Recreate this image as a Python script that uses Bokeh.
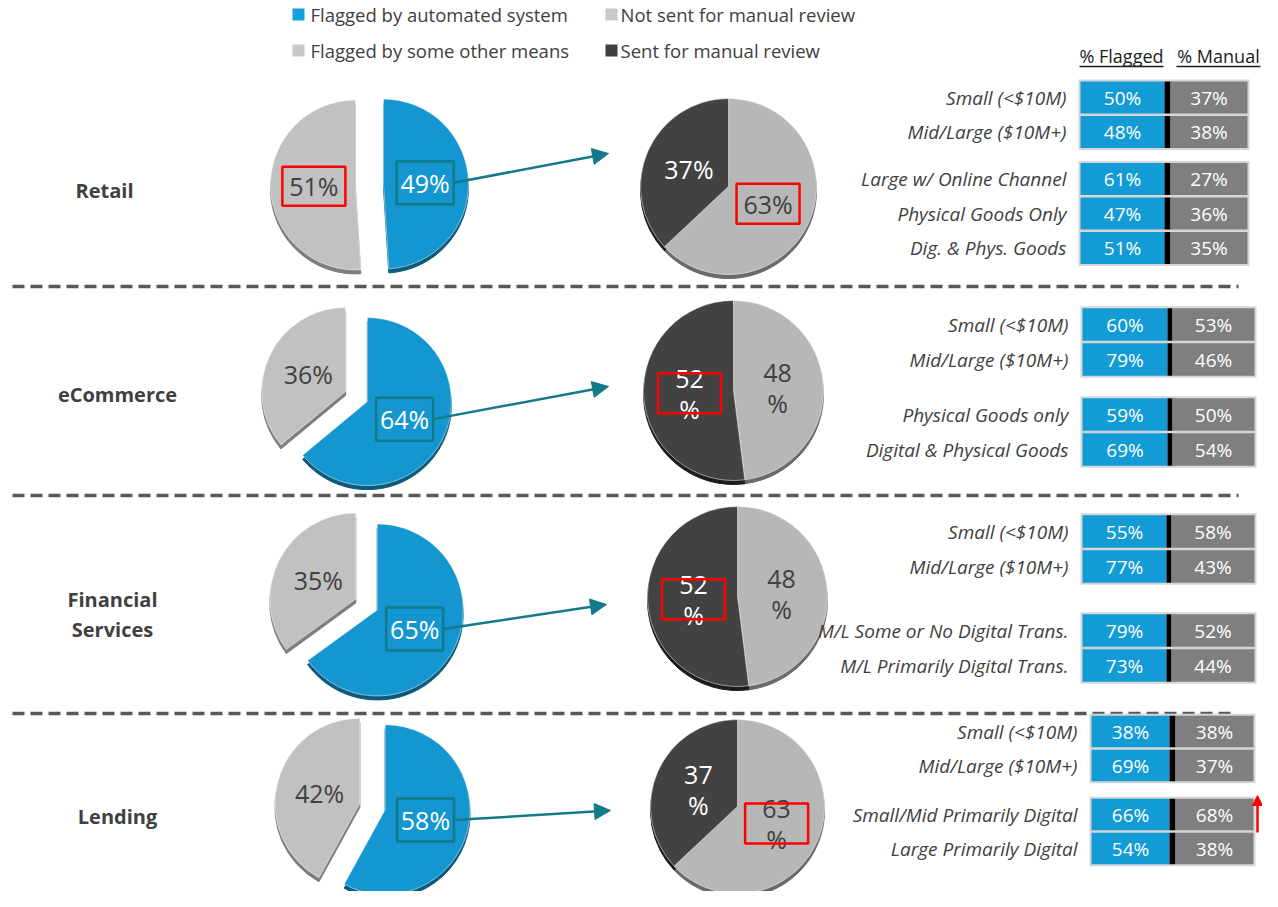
import math
from bokeh.plotting import figure
from bokeh.models import Range1d, Arrow, NormalHead, ColumnDataSource
from bokeh.core.properties import value
from bokeh.embed import file_html
from bokeh.resources import INLINE

# ---------------- data ----------------
sectors = ["Retail", "eCommerce", "Financial\nServices", "Lending"]
pct_flagged_auto = [49, 64, 65, 58]
pct_flagged_other = [51, 36, 35, 42]
pct_sent_manual = [37, 52, 52, 37]
pct_not_sent_manual = [63, 48, 48, 63]

retail_segments = ["Small (<$10M)", "Mid/Large ($10M+)", "Large w/ Online Channel",
                   "Physical Goods Only", "Dig. & Phys. Goods"]
retail_flagged = [50, 48, 61, 47, 51]
retail_manual = [37, 38, 27, 36, 35]
retail_groups = [0, 0, 1, 1, 1]

ecom_segments = ["Small (<$10M)", "Mid/Large ($10M+)", "Physical Goods only",
                 "Digital & Physical Goods"]
ecom_flagged = [60, 79, 59, 69]
ecom_manual = [53, 46, 50, 54]
ecom_groups = [0, 0, 1, 1]

fin_segments = ["Small (<$10M)", "Mid/Large ($10M+)", "M/L Some or No Digital Trans.",
                "M/L Primarily Digital Trans."]
fin_flagged = [55, 77, 79, 73]
fin_manual = [58, 43, 52, 44]
fin_groups = [0, 0, 1, 1]

lend_segments = ["Small (<$10M)", "Mid/Large ($10M+)", "Small/Mid Primarily Digital",
                 "Large Primarily Digital"]
lend_flagged = [38, 69, 66, 54]
lend_manual = [38, 37, 68, 38]
lend_groups = [0, 0, 1, 1]

legend_labels = ["Flagged by automated system", "Flagged by some other means",
                 "Not sent for manual review", "Sent for manual review"]
table_headers = ["% Flagged", "% Manual"]

tables = [
    (retail_segments, retail_flagged, retail_manual, retail_groups),
    (ecom_segments, ecom_flagged, ecom_manual, ecom_groups),
    (fin_segments, fin_flagged, fin_manual, fin_groups),
    (lend_segments, lend_flagged, lend_manual, lend_groups),
]

# ---------------- layout / style ----------------
W, H = 1262, 891          # figure size in the window (8px page margin)
Y_TOP = 2                 # design y shown at the figure's top edge
FONT = value("Open Sans")
BLUE, BLUE_SH = "#1497d0", "#0b5a7c"
LGRAY, LGRAY_SH = "#c1c1c1", "#7e7e7e"
RLIGHT, RLIGHT_SH = "#b7b7b7", "#6a6a6a"
DARK, DARK_SH = "#424242", "#1c1c1c"
TEAL = "#127a89"
TXT = "#404040"
BAR_BLUE, BAR_GRAY, BAR_EDGE = "#139bd6", "#7f7f7f", "#d6d6d6"

sector_layout = [
    dict(name_xy=(104, 192), lc=(369, 186), lr=85, ex=14, rc=(728, 188), rr=88, tip=(608, 155),
         two_line=False, tab_y0=99, pitch=34.5, gap=12.5, bx=(1080, 1164, 1170, 1247),
         red_left=True, red_right="light"),
    dict(name_xy=(117, 396), lc=(356, 398), lr=84, ex=12, rc=(733, 392), rr=90, tip=(608, 388),
         two_line=True, tab_y0=326, pitch=35, gap=20, bx=(1082, 1167, 1172, 1254),
         red_left=False, red_right="dark"),
    dict(name_xy=(112, 616), lc=(366, 606), lr=86, ex=12, rc=(737, 598), rr=90, tip=(606, 606),
         two_line=True, tab_y0=533, pitch=35, gap=29, bx=(1082, 1166, 1171, 1254),
         red_left=False, red_right="dark"),
    dict(name_xy=(117, 818), lc=(372, 808), lr=85, ex=13, rc=(737, 808), rr=87, tip=(610, 812),
         two_line=True, tab_y0=733, pitch=34, gap=15, bx=(1091, 1169, 1175, 1253),
         red_left=False, red_right="light"),
]
separators_y = [288, 497, 715]


def Y(v):
    return -v


p = figure(width=W, height=H, x_range=Range1d(0, W), y_range=Range1d(-(Y_TOP + H), -Y_TOP),
           output_backend="svg", toolbar_location=None, x_axis_type=None, y_axis_type=None,
           min_border=0, outline_line_color=None)
p.grid.visible = False
p.background_fill_color = "white"
p.border_fill_color = "white"

# ---- pies ----
wedges = dict(x=[], y=[], r=[], s=[], e=[], c=[])
shadows = dict(x=[], y=[], r=[], s=[], e=[], c=[])
labels = dict(x=[], y=[], t=[], c=[])
labels2 = dict(x=[], y=[], t=[], c=[])
red_boxes = dict(x=[], y=[], w=[], h=[])
teal_boxes = dict(x=[], y=[], w=[], h=[])
arrows = dict(x0=[], y0=[], x1=[], y1=[])


def add_slice(cx, cy, r, a0, a1, color, shcolor, explode, txt, tcolor, target):
    mid = math.pi / 2 - 2 * math.pi * (a0 + a1) / 2
    dx, dy = math.cos(mid), math.sin(mid)
    x = cx + explode * dx
    y = Y(cy) + explode * dy
    s = math.pi / 2 - 2 * math.pi * a1
    e = math.pi / 2 - 2 * math.pi * a0
    shadows["x"].append(x); shadows["y"].append(y - 4); shadows["r"].append(r)
    shadows["s"].append(s); shadows["e"].append(e); shadows["c"].append(shcolor)
    wedges["x"].append(x); wedges["y"].append(y); wedges["r"].append(r)
    wedges["s"].append(s); wedges["e"].append(e); wedges["c"].append(color)
    lx, ly = x + 0.49 * r * dx, y + 0.49 * r * dy
    target["x"].append(lx); target["y"].append(ly); target["t"].append(txt); target["c"].append(tcolor)
    return lx, ly


for i, L in enumerate(sector_layout):
    fa = pct_flagged_auto[i] / 100
    fo = pct_flagged_other[i] / 100
    sm = pct_sent_manual[i] / 100
    ns = pct_not_sent_manual[i] / 100
    cx, cy = L["lc"]
    bx_, by_ = add_slice(cx, cy, L["lr"], 0, fa, BLUE, BLUE_SH, L["ex"],
                         f"{pct_flagged_auto[i]}%", "white", labels)
    gx_, gy_ = add_slice(cx, cy, L["lr"], fa, fa + fo, LGRAY, LGRAY_SH, L["ex"],
                         f"{pct_flagged_other[i]}%", TXT, labels)
    teal_boxes["x"].append(bx_); teal_boxes["y"].append(by_)
    teal_boxes["w"].append(57); teal_boxes["h"].append(43)
    if L["red_left"]:
        red_boxes["x"].append(gx_); red_boxes["y"].append(gy_)
        red_boxes["w"].append(63); red_boxes["h"].append(39)
    arrows["x0"].append(bx_ + 28.5); arrows["y0"].append(by_)
    arrows["x1"].append(L["tip"][0]); arrows["y1"].append(Y(L["tip"][1]))
    rx, ry = L["rc"]
    tgt = labels2 if L["two_line"] else labels
    fmt = (lambda v: f"{v}\n%") if L["two_line"] else (lambda v: f"{v}%")
    nx_, ny_ = add_slice(rx, ry, L["rr"], 0, ns, RLIGHT, RLIGHT_SH, 0,
                         fmt(pct_not_sent_manual[i]), TXT, tgt)
    dx_, dy_ = add_slice(rx, ry, L["rr"], ns, ns + sm, DARK, DARK_SH, 0,
                         fmt(pct_sent_manual[i]), "white", tgt)
    hx, hy = (nx_, ny_) if L["red_right"] == "light" else (dx_, dy_)
    red_boxes["x"].append(hx); red_boxes["y"].append(hy)
    red_boxes["w"].append(63); red_boxes["h"].append(40)

p.wedge(x="x", y="y", radius="r", start_angle="s", end_angle="e", fill_color="c",
        line_color="c", source=ColumnDataSource(shadows))
p.wedge(x="x", y="y", radius="r", start_angle="s", end_angle="e", fill_color="c",
        line_color="white", line_width=0.5, source=ColumnDataSource(wedges))
p.text(x="x", y="y", text="t", text_color="c", text_font=FONT, text_font_size=value("25px"),
       text_align="center", text_baseline="middle", source=ColumnDataSource(labels))
p.text(x="x", y="y", text="t", text_color="c", text_font=FONT, text_font_size=value("25px"),
       text_align="center", text_baseline="middle", text_line_height=0.92,
       source=ColumnDataSource(labels2))
p.rect(x="x", y="y", width="w", height="h", fill_color=None, line_color=TEAL, line_width=2.5,
       source=ColumnDataSource(teal_boxes))
p.rect(x="x", y="y", width="w", height="h", fill_color=None, line_color="#ff0000", line_width=2.5,
       source=ColumnDataSource(red_boxes))
p.add_layout(Arrow(end=NormalHead(size=16, fill_color=TEAL, line_color=TEAL),
                   x_start="x0", y_start="y0", x_end="x1", y_end="y1", line_color=TEAL,
                   line_width=2.5, source=ColumnDataSource(arrows)))

# ---- sector names ----
p.text(x=[L["name_xy"][0] for L in sector_layout], y=[Y(L["name_xy"][1]) for L in sector_layout],
       text=sectors, text_color=TXT, text_font=FONT, text_font_size=value("20px"),
       text_font_style="bold", text_align="center", text_baseline="middle", text_line_height=1.12)

# ---- separators ----
p.segment(x0=[12] * 3, x1=[1238, 1238, 1232], y0=[Y(v) for v in separators_y],
          y1=[Y(v) for v in separators_y], line_color="#595959", line_width=3.5, line_dash="12 6")

# ---- tables ----
bg = dict(l=[], r=[], t=[], b=[])
qd = dict(l=[], r=[], t=[], b=[], c=[])
btxt = dict(x=[], y=[], t=[])
seg = dict(x=[], y=[], t=[])
for (names, flg, man, grp), L in zip(tables, sector_layout):
    b0, b1, b2, b3 = L["bx"]
    h = L["pitch"] - 2.5
    ys = [L["tab_y0"] + j * L["pitch"] + g * L["gap"] for j, g in enumerate(grp)]
    for g in sorted(set(grp)):
        gy = [yy for yy, gg in zip(ys, grp) if gg == g]
        bg["l"].append(b0 - 2); bg["r"].append(b3 + 2)
        bg["t"].append(Y(min(gy) - h / 2 - 2)); bg["b"].append(Y(max(gy) + h / 2 + 2))
    for yy, nm, fv, mv in zip(ys, names, flg, man):
        for (l, r, c) in [(b0, b1, BAR_BLUE), (b1, b2, "#000000"), (b2, b3, BAR_GRAY)]:
            qd["l"].append(l); qd["r"].append(r); qd["t"].append(Y(yy - h / 2))
            qd["b"].append(Y(yy + h / 2)); qd["c"].append(c)
        btxt["x"] += [(b0 + b1) / 2, (b2 + b3) / 2]
        btxt["y"] += [Y(yy), Y(yy)]
        btxt["t"] += [f"{fv}%", f"{mv}%"]
        seg["x"].append(b0 - 14); seg["y"].append(Y(yy)); seg["t"].append(nm)

p.quad(left="l", right="r", top="t", bottom="b", fill_color=BAR_EDGE, line_color=None,
       source=ColumnDataSource(bg))
p.quad(left="l", right="r", top="t", bottom="b", fill_color="c", line_color=None,
       source=ColumnDataSource(qd))
p.text(x="x", y="y", text="t", text_color="white", text_font=FONT, text_font_size=value("19px"),
       text_align="center", text_baseline="middle", source=ColumnDataSource(btxt))
p.text(x="x", y="y", text="t", text_color=TXT, text_font=FONT, text_font_size=value("19px"),
       text_font_style="italic", text_align="right", text_baseline="middle",
       source=ColumnDataSource(seg))

# headers (kept inside the figure's right edge)
p.text(x=[1121, 1218], y=[Y(57), Y(57)], text=table_headers, text_color="#1a1a1a", text_font=FONT,
       text_font_size=value("18px"), text_align="center", text_baseline="middle")
p.segment(x0=[1079, 1176], x1=[1163, 1260], y0=[Y(68), Y(68)], y1=[Y(68), Y(68)],
          line_color="#1a1a1a", line_width=1.5)

# red up arrow
p.add_layout(Arrow(end=NormalHead(size=10, fill_color="#ff0000", line_color="#ff0000"),
                   x_start=1257, y_start=Y(834), x_end=1257, y_end=Y(797),
                   line_color="#ff0000", line_width=2.5))

# ---- legend ----
p.rect(x=[298, 298, 611, 611], y=[Y(16), Y(52), Y(16), Y(52)], width=12, height=12,
       fill_color=["#14a0dc", "#c8c8c8", "#c8c8c8", "#404040"], line_color=None)
p.text(x=[310, 310, 620, 620], y=[Y(16), Y(52), Y(16), Y(52)], text=legend_labels,
       text_color=TXT, text_font=FONT, text_font_size=value("18.5px"), text_align="left",
       text_baseline="middle")

open("out.html", "w").write(file_html(p, INLINE))
